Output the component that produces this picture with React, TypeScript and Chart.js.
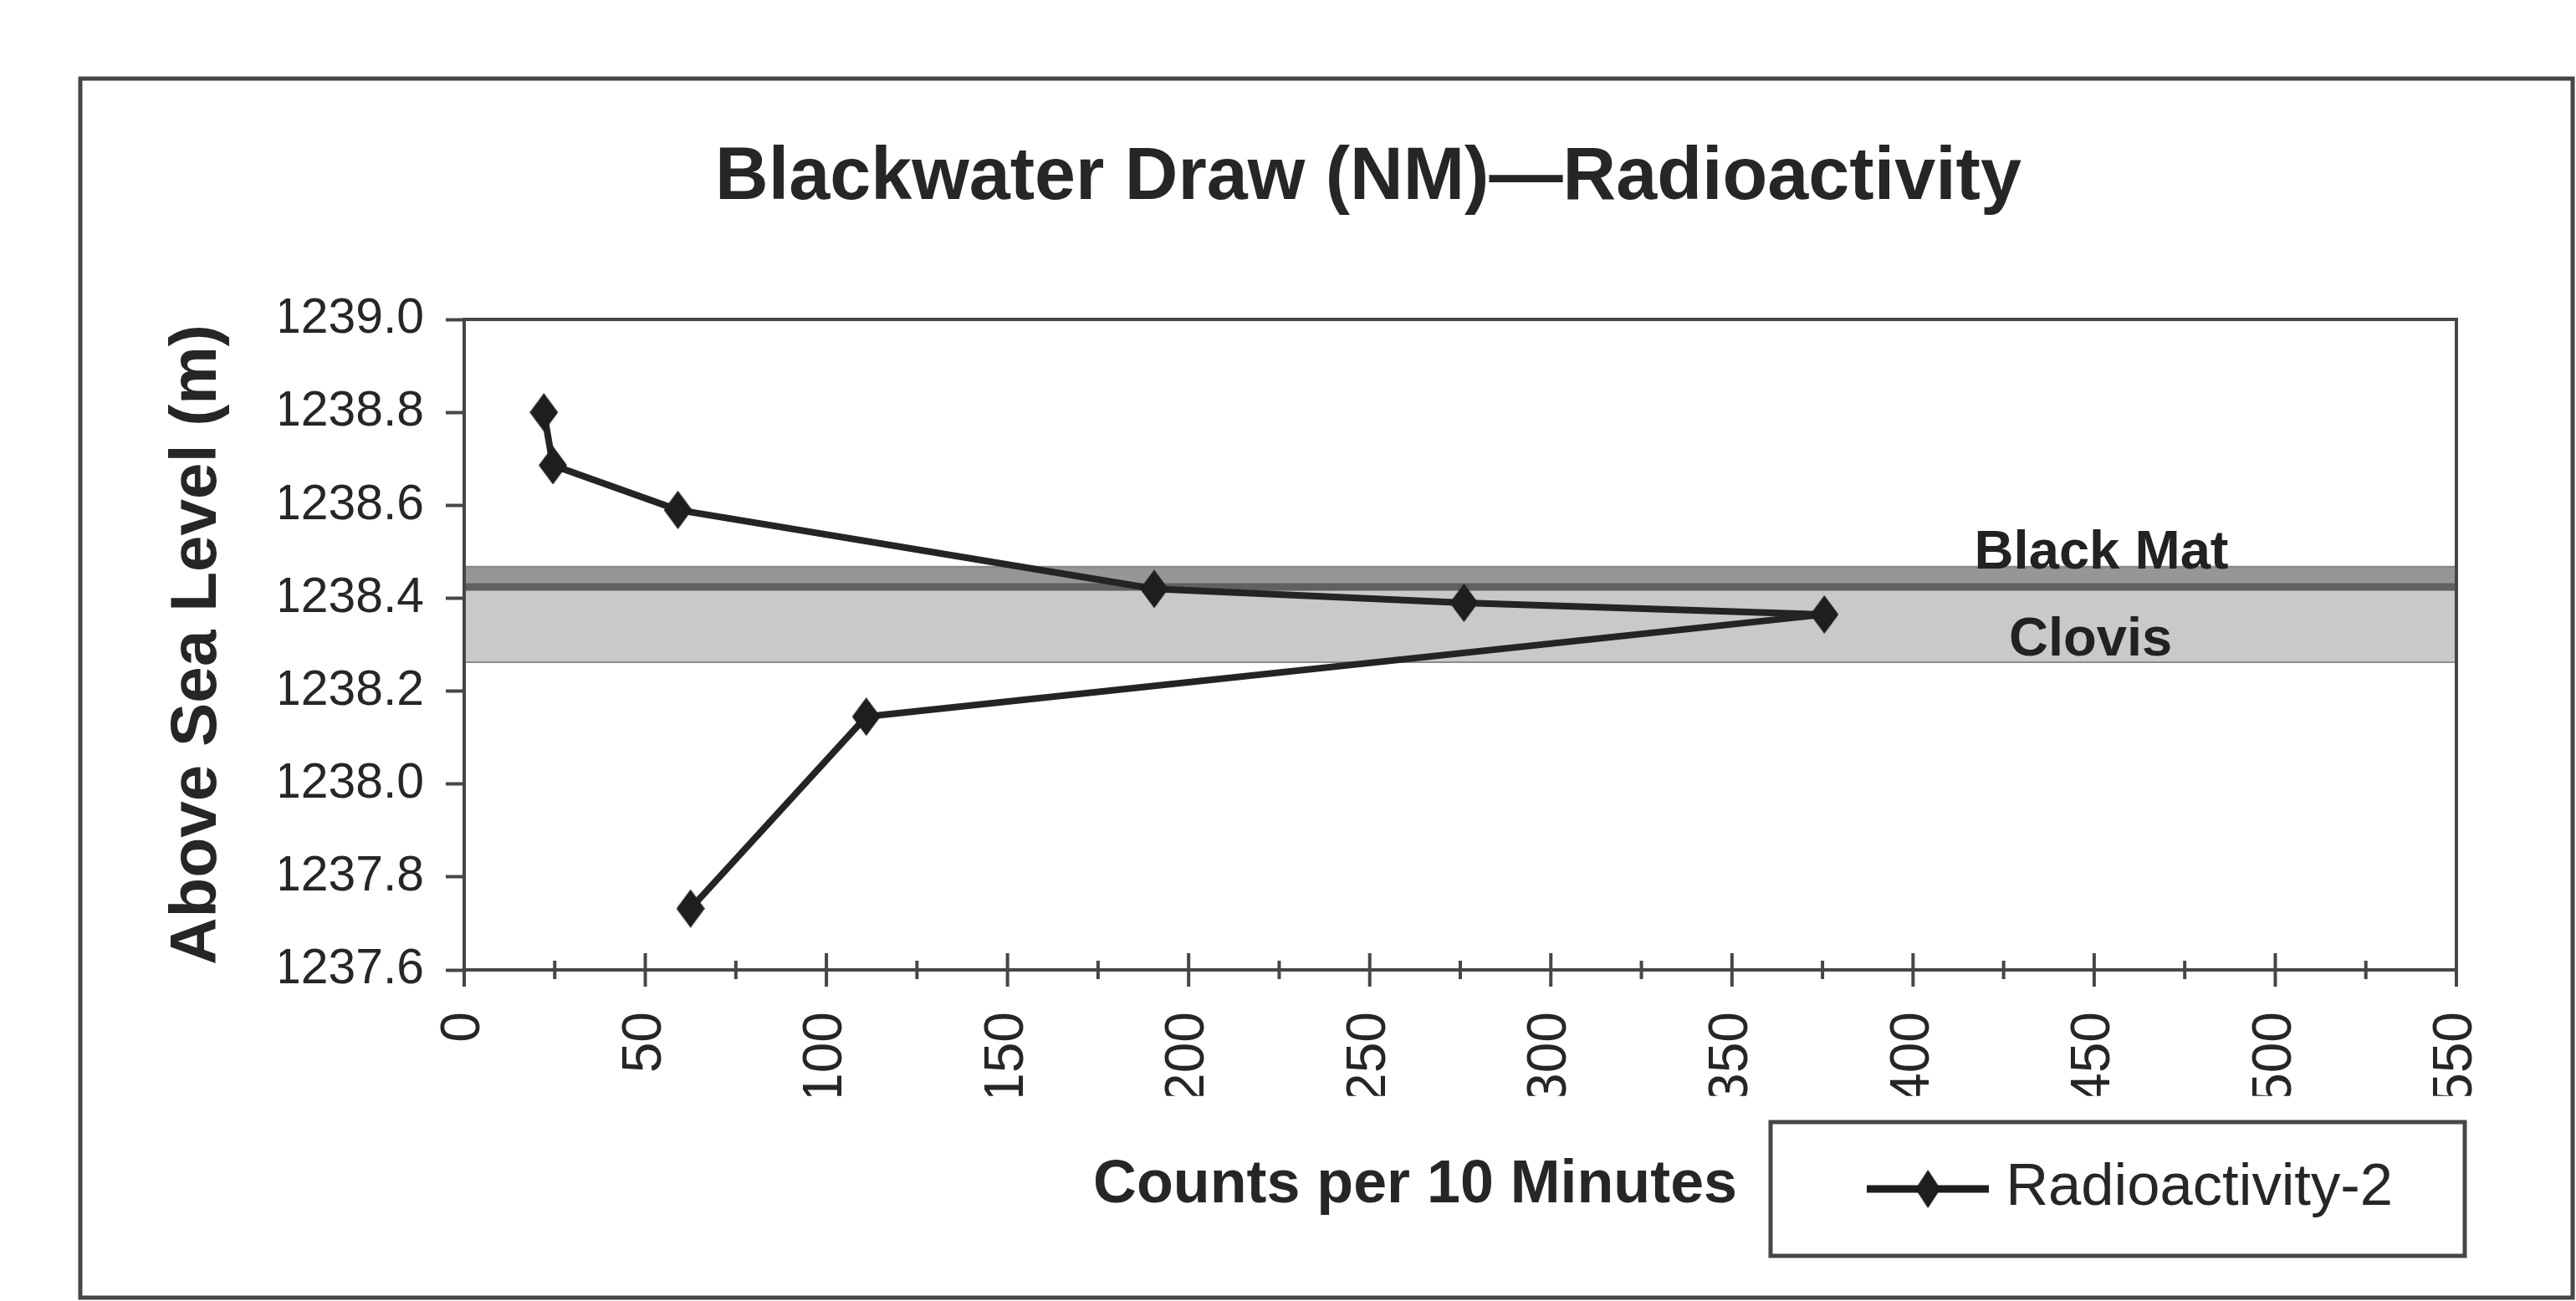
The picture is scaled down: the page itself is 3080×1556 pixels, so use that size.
import React, { useEffect, useRef } from 'react';
import { Chart, registerables } from 'chart.js';

Chart.register(...registerables);

// ---------- data ----------
const TITLE = 'Blackwater Draw (NM)\u2014Radioactivity';
const X_TITLE = 'Counts per 10 Minutes';
const Y_TITLE = 'Above Sea Level (m)';
const SERIES_NAME = 'Radioactivity-2';

const counts = [22, 24.5, 59, 190.5, 276, 375.5, 111, 62.5];
const elevations = [1238.8, 1238.686, 1238.59, 1238.42, 1238.39, 1238.365, 1238.145, 1237.732];

const X_MIN = 0;
const X_MAX = 550;
const X_STEP = 50;
const Y_MIN = 1237.6;
const Y_MAX = 1239.0;
const Y_STEP = 0.2;

const layerNames = ['Black Mat', 'Clovis'];
const layerTops = [1238.467, 1238.424];
const layerBottoms = [1238.424, 1238.264];
const layerLabelX = [452, 449];
const layerLabelY = [1238.496, 1238.309];
const layerFills = ['#969696', '#c9c9c9'];
const layerBorders = ['#8a8a8a', '#606060'];

// ---------- layout / style ----------
const W = 3080;
const H = 1556;
const INK = '#262626';
const AREA_LEFT = 555;
const AREA_RIGHT = 2937;
const AREA_TOP = 382;
const AREA_BOTTOM = 1160;
const PAD_L = 335;
const PAD_R = W - AREA_RIGHT;
const LEG_CY = 1422;
const LEG_PAD = 76;

function measureWidth(font: string, text: string): number {
  const ctx = document.createElement('canvas').getContext('2d') as CanvasRenderingContext2D;
  ctx.font = font;
  return ctx.measureText(text).width;
}

function hasFont(name: string): boolean {
  const s = 'abcdefghijklmnopqrstuvwxyz0123456789ABCDEFGHIJ';
  return ['monospace', 'serif'].every(
    (fb) => Math.abs(measureWidth(`100px "${name}", ${fb}`, s) - measureWidth(`100px ${fb}`, s)) > 0.5
  );
}

function makeDiamond(w: number, h: number, color: string): HTMLCanvasElement {
  const c = document.createElement('canvas');
  c.width = w;
  c.height = h;
  const g = c.getContext('2d') as CanvasRenderingContext2D;
  g.fillStyle = color;
  g.beginPath();
  g.moveTo(w / 2, 0);
  g.lineTo(w, h / 2);
  g.lineTo(w / 2, h);
  g.lineTo(0, h / 2);
  g.closePath();
  g.fill();
  return c;
}

function makeLegendSymbol(lineW: number, lineH: number, dw: number, dh: number, color: string): HTMLCanvasElement {
  const c = document.createElement('canvas');
  c.width = lineW;
  c.height = dh;
  const g = c.getContext('2d') as CanvasRenderingContext2D;
  g.fillStyle = color;
  g.fillRect(0, dh / 2 - lineH / 2, lineW, lineH);
  g.drawImage(makeDiamond(dw, dh, color), lineW / 2 - dw / 2, 0);
  return c;
}

export default function App() {
  const ref = useRef<HTMLCanvasElement>(null);

  useEffect(() => {
    const canvas = ref.current;
    if (!canvas) return;

    const REGULAR = '"Liberation Sans", Arial, sans-serif';
    const NARROW = hasFont('Liberation Sans Narrow')
      ? '"Liberation Sans Narrow", "Liberation Sans", Arial, sans-serif'
      : REGULAR;
    const fit = (text: string, weight: string, family: string, target: number) =>
      (100 * target) / measureWidth(`${weight} 100px ${family}`, text);

    const titleSize = fit(TITLE, 'bold', NARROW, 1562);
    const yTickSize = fit('1239.0', 'normal', NARROW, 180);
    const legendSize = fit(SERIES_NAME, 'normal', NARROW, 463);
    const xTitleSize = fit(X_TITLE, 'bold', NARROW, 770);
    const layerSize = fit('Black Mat', 'bold', NARROW, 304);
    const xTickSize = fit('550', 'normal', REGULAR, 110);
    const yTitleSize = fit(Y_TITLE, 'bold', REGULAR, 766);

    // title placement
    const lhT = titleSize * 1.2;
    const titlePadTop = 214 - lhT / 2;
    const titlePadBottom = AREA_TOP - lhT - titlePadTop;

    // legend placement
    const legendTop = LEG_CY - legendSize / 2 - LEG_PAD;
    const legendH = legendSize + LEG_PAD + 10;
    const padBottom = H - (legendTop + legendH);
    const xScaleH = legendTop - AREA_BOTTOM;
    const legendBoxW = 2 * (AREA_RIGHT - LEG_PAD - 463 - legendSize / 2 - 2305);

    // y axis placement
    const yScaleW = AREA_LEFT - PAD_L;
    const lhY = yTitleSize * 1.2;
    const yTitlePadTop = 236 - PAD_L - lhY / 2;

    const diamond = makeDiamond(34, 46, '#1e1e1e');
    const legendSymbol = makeLegendSymbol(146, 9, 30, 46, '#1e1e1e');

    const decorPlugin = {
      id: 'decor',
      beforeDraw(chart: any) {
        const { ctx } = chart;
        ctx.save();
        ctx.fillStyle = '#ffffff';
        ctx.fillRect(0, 0, chart.width, chart.height);
        ctx.restore();
      },
      afterDatasetsDraw(chart: any) {
        const { ctx, chartArea } = chart;
        const xs = chart.scales.x;
        const ys = chart.scales.y;
        ctx.save();
        // layer labels
        ctx.fillStyle = '#222222';
        ctx.font = `bold ${layerSize}px ${NARROW}`;
        ctx.textAlign = 'center';
        ctx.textBaseline = 'middle';
        layerNames.forEach((name, i) => {
          ctx.fillText(name, xs.getPixelForValue(layerLabelX[i]), ys.getPixelForValue(layerLabelY[i]));
        });
        // plot area border
        ctx.strokeStyle = '#464646';
        ctx.lineWidth = 4;
        ctx.strokeRect(chartArea.left, chartArea.top, chartArea.right - chartArea.left, chartArea.bottom - chartArea.top);
        // crossing x ticks (major every step, minor halfway)
        const b = chartArea.bottom;
        ctx.beginPath();
        xs.ticks.forEach((t: any) => {
          const p = xs.getPixelForValue(t.value);
          ctx.moveTo(p, b - 20);
          ctx.lineTo(p, b + 20);
          const m = t.value + X_STEP / 2;
          if (m < X_MAX) {
            const pm = xs.getPixelForValue(m);
            ctx.moveTo(pm, b - 11);
            ctx.lineTo(pm, b + 11);
          }
        });
        ctx.stroke();
        ctx.restore();
      },
      afterDraw(chart: any) {
        const { ctx } = chart;
        const lg = chart.legend;
        ctx.save();
        ctx.strokeStyle = '#464646';
        ctx.lineWidth = 5;
        // legend frame
        const cy = lg.top + LEG_PAD + legendSize / 2;
        const frameLeft = lg.right - 820;
        ctx.strokeRect(frameLeft, cy - 80, 830, 160);
        // x axis title, set to the left of the legend frame
        ctx.fillStyle = INK;
        ctx.font = `bold ${xTitleSize}px ${NARROW}`;
        ctx.textAlign = 'right';
        ctx.textBaseline = 'middle';
        ctx.fillText(X_TITLE, frameLeft - 40, cy - 4);
        // outer chart frame
        ctx.strokeRect(96, 94, 3076 - 96, 1552 - 94);
        ctx.restore();
      },
    };

    const datasets: any[] = [
      {
        label: SERIES_NAME,
        data: counts.map((x, i) => ({ x, y: elevations[i] })),
        borderColor: '#242424',
        backgroundColor: '#242424',
        borderWidth: 8,
        pointStyle: diamond,
        pointRadius: 18,
        fill: false,
        tension: 0,
        order: 0,
      },
      ...layerNames.map((name, i) => ({
        label: name,
        data: [
          { x: X_MIN, y: layerTops[i] },
          { x: X_MAX, y: layerTops[i] },
        ],
        borderColor: layerBorders[i],
        backgroundColor: layerFills[i],
        borderWidth: i === 0 ? 3 : 9,
        pointRadius: 0,
        fill: { value: layerBottoms[i] },
        order: i === 0 ? 3 : 1,
      })),
      {
        label: 'Clovis base',
        data: [
          { x: X_MIN, y: layerBottoms[1] },
          { x: X_MAX, y: layerBottoms[1] },
        ],
        borderColor: '#8c8c8c',
        borderWidth: 4,
        pointRadius: 0,
        fill: false,
        order: 1,
      },
    ];

    const chart = new Chart(canvas, {
      type: 'line',
      data: { datasets },
      options: {
        responsive: false,
        maintainAspectRatio: false,
        animation: false,
        devicePixelRatio: 1,
        layout: { padding: { left: PAD_L, right: PAD_R, top: 0, bottom: padBottom } },
        plugins: {
          title: {
            display: true,
            text: TITLE,
            color: INK,
            font: { family: NARROW, weight: 'bold', size: titleSize },
            padding: { top: titlePadTop, bottom: titlePadBottom },
          },
          legend: {
            display: true,
            position: 'bottom',
            align: 'end',
            labels: {
              color: INK,
              font: { family: NARROW, size: legendSize },
              usePointStyle: true,
              pointStyle: legendSymbol as any,
              pointStyleWidth: legendBoxW,
              padding: LEG_PAD,
              filter: (item: any) => item.datasetIndex === 0,
            },
          },
          tooltip: { enabled: false },
        },
        scales: {
          x: {
            type: 'linear',
            min: X_MIN,
            max: X_MAX,
            ticks: {
              stepSize: X_STEP,
              autoSkip: false,
              minRotation: 90,
              maxRotation: 90,
              padding: 50,
              color: INK,
              font: { family: REGULAR, size: xTickSize },
              callback: (v: any) => String(v),
            },
            grid: { display: false, drawTicks: false },
            border: { display: false },
            title: { display: false, text: X_TITLE },
            afterFit: (s: any) => {
              s.height = xScaleH;
            },
          },
          y: {
            type: 'linear',
            min: Y_MIN,
            max: Y_MAX,
            ticks: {
              stepSize: Y_STEP,
              autoSkip: false,
              padding: 26,
              color: INK,
              font: { family: NARROW, size: yTickSize },
              callback: (v: any) => Number(v).toFixed(1),
            },
            grid: {
              display: true,
              drawOnChartArea: false,
              drawTicks: true,
              tickLength: 22,
              tickWidth: 4,
              tickColor: '#464646',
            },
            border: { display: false },
            title: {
              display: true,
              text: Y_TITLE,
              color: INK,
              font: { family: REGULAR, weight: 'bold', size: yTitleSize },
              padding: { top: yTitlePadTop, bottom: 0 },
            },
            afterFit: (s: any) => {
              s.width = yScaleW;
            },
          },
        },
      } as any,
      plugins: [decorPlugin as any],
    });

    return () => {
      chart.destroy();
    };
  }, []);

  return (
    <div style={{ position: 'absolute', left: 0, top: 0, width: W, height: H, background: '#ffffff' }}>
      <canvas ref={ref} width={W} height={H} style={{ display: 'block', width: W, height: H }} />
    </div>
  );
}
